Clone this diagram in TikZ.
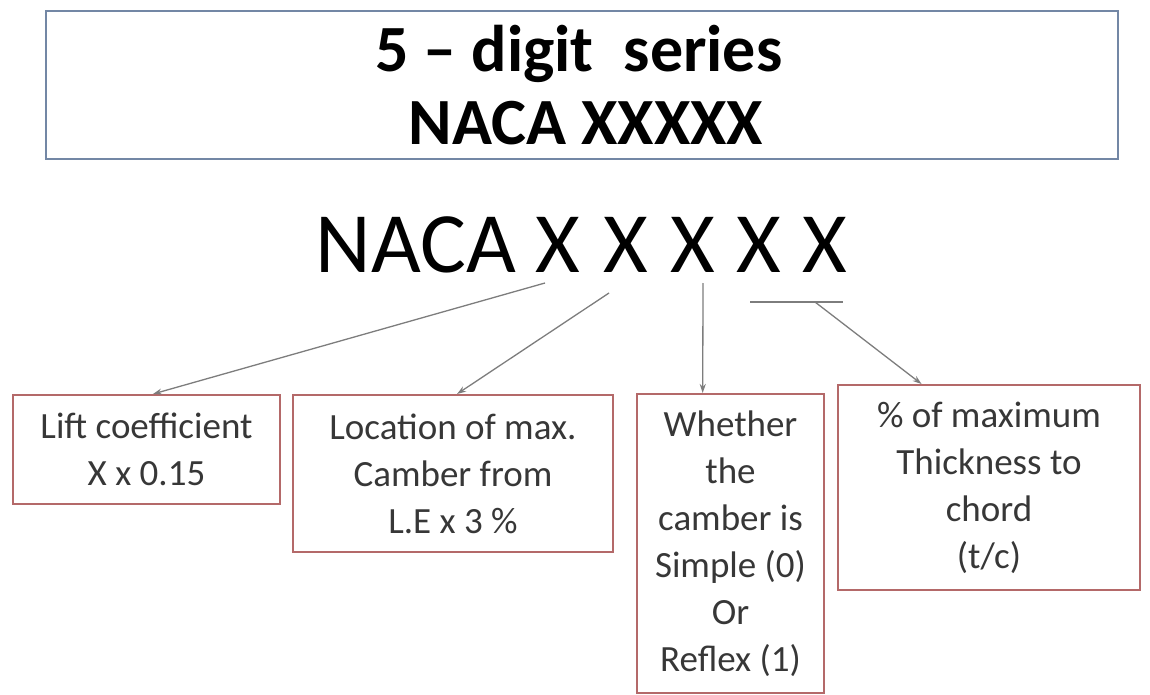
\documentclass[tikz,border=0pt]{standalone}
\usepackage{fontspec}
\setmainfont{Carlito}
\usetikzlibrary{arrows.meta,calc}
\definecolor{topblue}{RGB}{115,135,165}
\definecolor{boxred}{RGB}{180,105,105}
\definecolor{arrgray}{RGB}{125,125,125}
\definecolor{txtgray}{RGB}{55,55,55}
\tikzset{
  titletext/.style={anchor=base,inner sep=0pt,font=\bfseries\fontsize{66}{73}\selectfont,text=black},
  bigtext/.style={anchor=base,inner sep=0pt,font=\fontsize{86}{90}\selectfont,text=black},
  infobox/.style={draw=boxred,line width=2pt,align=center,inner sep=0pt,text=txtgray,font=\fontsize{37}{47}\selectfont},
  conn/.style={draw=arrgray,line width=1.3pt,-{Stealth[length=9pt,width=6pt]}},
}
\begin{document}
\begin{tikzpicture}[x=1pt,y=-1pt]
\useasboundingbox (0,0) rectangle (1150,695);
% top box
\node[draw=topblue,line width=2.5pt,minimum width=1072pt,minimum height=148pt,inner sep=0pt] (top) at (582,85) {};
\node[titletext] (t1) at (579,72) {5 -- digit\ \ series};
\node[titletext] (t2) at (586,145) {NACA XXXXX};
% big code
\node[bigtext] (naca) at (416,272) {NACA};
\node[bigtext] (x1) at (558,272) {X};
\node[bigtext] (x2) at (626,272) {X};
\node[bigtext] (x3) at (693,272) {X};
\node[bigtext] (x4) at (759,272) {X};
\node[bigtext] (x5) at (825,272) {X};
% boxes
\node[infobox,minimum width=267pt,minimum height=109pt] (b1) at (146.5,449.5) {Lift coefficient\\X x 0.15};
\node[infobox,minimum width=320pt,minimum height=157pt] (b2) at (453,473.5) {Location of max.\\Camber from\\L.E x 3 \%};
\node[infobox,minimum width=187pt,minimum height=299pt] (b3) at (730.5,543.5) {Whether\\the\\camber is\\Simple (0)\\Or\\Reflex (1)};
\node[infobox,minimum width=302pt,minimum height=205pt] (b4) at (989,487.5) {\% of maximum\\Thickness to\\chord\\(t/c)};
% connector start points
\coordinate (s1) at (545,283);
\coordinate (s2) at (609,293);
\coordinate (s3) at (703,283);
\coordinate (barl) at (750,302);
\coordinate (barr) at (843,302);
\coordinate (s4) at (815,302);
\draw[draw=arrgray,line width=1.3pt] (barl) -- (barr);
\draw[conn] (s1) -- ($(b1.north west)!0.524!(b1.north east)$);
\draw[conn] (s2) -- ($(b2.north west)!0.5125!(b2.north east)$);
\draw[conn] (s3) -- ($(b3.north west)!0.353!(b3.north east)$);
\draw[conn] (s4) -- ($(b4.north west)!0.278!(b4.north east)$);
\end{tikzpicture}
\end{document}
